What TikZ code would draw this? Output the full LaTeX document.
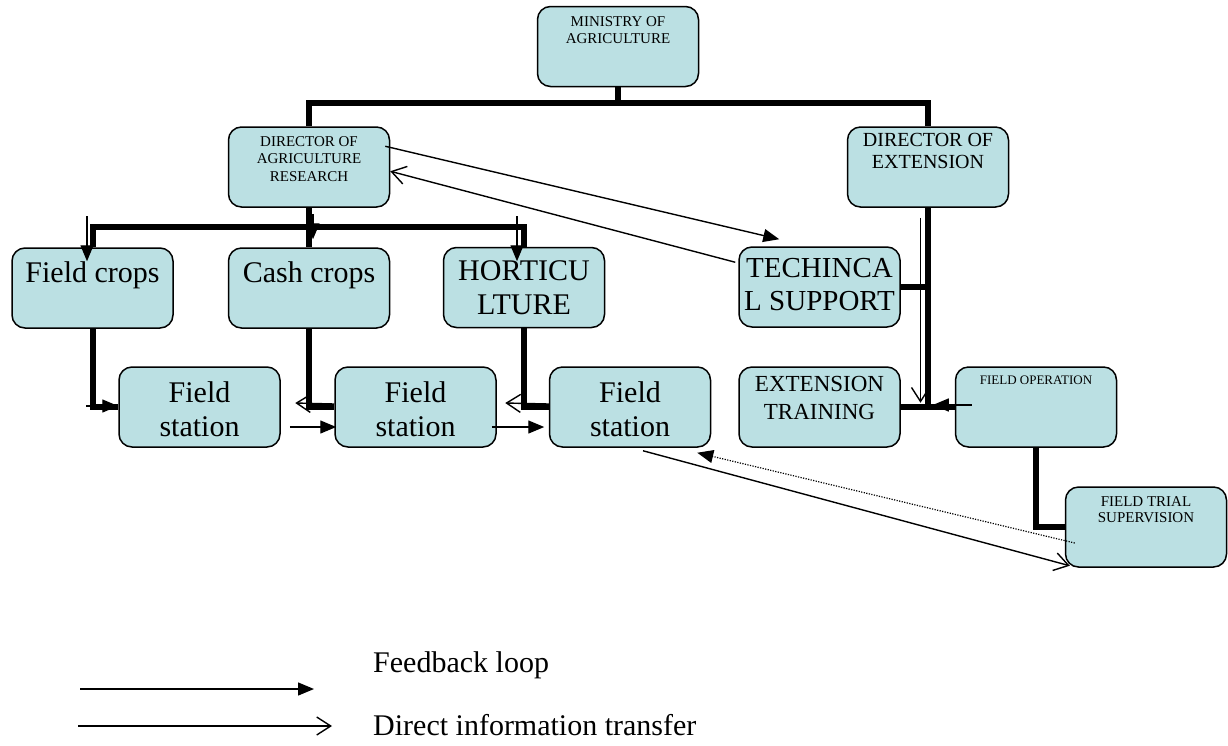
\documentclass[tikz,border=0pt]{standalone}
\usepackage{fontspec}
\setmainfont{Liberation Serif}
\usetikzlibrary{arrows.meta,calc}
\definecolor{boxfill}{RGB}{187,224,227}
\begin{document}
\begin{tikzpicture}[x=1pt,y=-1pt,
  box/.style={draw=black, line width=1.5pt, fill=boxfill, rounded corners=13pt,
    minimum width=161pt, minimum height=80pt, inner sep=0pt},
  lbl/.style={anchor=north, inner sep=0pt, align=center},
  bus/.style={line width=6pt},
  fb/.style={line width=1.4pt, -{Triangle[length=16pt,width=13pt]}},
  di/.style={line width=1.4pt, -{Straight Barb[length=14pt,width=18pt]}},
  dotline/.style={line width=1.2pt, dash pattern=on 1.2pt off 1.4pt, -{Triangle[length=16pt,width=13pt]}},
  big/.style={font=\fontsize{30}{34}\selectfont},
  small/.style={font=\fontsize{15}{17}\selectfont},
]
\fill[white] (0,0) rectangle (1228,745);
\useasboundingbox (0,0) rectangle (1228,745);

% boxes
\node[box] (min)  at (618,46.5) {};
\node[box] (dar)  at (309,167) {};
\node[box] (doe)  at (928,167) {};
\node[box] (fc)   at (92.5,288) {};
\node[box] (cc)   at (309,288) {};
\node[box] (hort) at (524,287.5) {};
\node[box] (ts)   at (819.5,287) {};
\node[box] (et)   at (819.5,407) {};
\node[box] (fo)   at (1036,407) {};
\node[box] (fts)  at (1146,527) {};
\node[box] (fs1)  at (199.5,407) {};
\node[box] (fs2)  at (415.5,407) {};
\node[box] (fs3)  at (630,407) {};

% labels
\node[lbl, small] (minT) at ($(min.north)+(0,11)$) {MINISTRY OF\\AGRICULTURE};
\node[lbl, font=\fontsize{15}{17.5}\selectfont] (darT) at ($(dar.north)+(0,10)$) {DIRECTOR OF\\AGRICULTURE\\RESEARCH};
\node[lbl, font=\fontsize{20}{22}\selectfont] (doeT) at ($(doe.north)+(0,7)$) {DIRECTOR OF\\EXTENSION};
\node[lbl, big] (fcT) at ($(fc.north)+(0,14)$) {Field crops};
\node[lbl, big] (ccT) at ($(cc.north)+(0,14)$) {Cash crops};
\node[lbl, big] (hortT) at ($(hort.north)+(0,14)$) {HORTICU\\LTURE};
\node[lbl, font=\fontsize{29}{33}\selectfont] (tsT) at ($(ts.north)+(0,12)$) {TECHINCA\\L SUPPORT};
\node[lbl, font=\fontsize{23}{28}\selectfont] (etT) at ($(et.north)+(0,10)$) {EXTENSION\\TRAINING};
\node[lbl, font=\fontsize{13}{15}\selectfont] (foT) at ($(fo.north)+(0,9)$) {FIELD OPERATION};
\node[lbl, font=\fontsize{15}{16}\selectfont] (ftsT) at ($(fts.north)+(0,10)$) {FIELD TRIAL\\SUPERVISION};
\node[lbl, big] (fs1T) at ($(fs1.north)+(0,15)$) {Field\\station};
\node[lbl, big] (fs2T) at ($(fs2.north)+(0,15)$) {Field\\station};
\node[lbl, big] (fs3T) at ($(fs3.north)+(0,15)$) {Field\\station};

% thick hierarchy lines
\coordinate (busA) at (618,103);
\draw[bus] (min.south) -- (busA);
\draw[bus] (dar.north) |- (busA) -| (doe.north);
\coordinate (busB) at (309,227);
\draw[bus] (dar.south) -- (busB);
\draw[bus] (fc.north) |- (busB) -| (hort.north);
\draw[bus] (busB -| cc.north) -- (cc.north);
\draw[bus] (fc.south) |- (fs1.west);
\draw[bus] (cc.south) |- (fs2.west);
\draw[bus] (hort.south) |- (fs3.west);
\draw[bus] (doe.south) -- (doe.south |- et.east);
\draw[bus] (ts.east) -- (ts.east -| doe.south);
\draw[bus] (et.east) -- (fo.west);
\draw[bus] (fo.south) |- (fts.west);

% thin arrows
\draw[fb] ([shift={(-5,20)}]dar.north east) -- ([shift={(41,-7)}]ts.north west);
\draw[di] ([shift={(-3,16)}]ts.north west) -- ([shift={(0,45)}]dar.north east);
\draw[fb] ([shift={(-5.5,-31)}]fc.north) -- ([shift={(-5.5,14)}]fc.north);
\draw[fb] ([shift={(4,-33)}]cc.north) -- ([shift={(4,-8)}]cc.north);
\draw[fb] ([shift={(-7,-30.5)}]hort.north) -- ([shift={(-7,14.5)}]hort.north);
\draw[fb] ([shift={(-32,-1)}]fs1.west) -- ([shift={(0,-1)}]fs1.west);
\draw[di] ([shift={(0,-3)}]fs2.west) -- ([shift={(-39,-4)}]fs2.west);
\draw[di] ([shift={(0,-3)}]fs3.west) -- ([shift={(-43.5,-4)}]fs3.west);
\draw[fb] ([shift={(9,20)}]fs1.east) -- ([shift={(2,20)}]fs2.west);
\draw[fb] ([shift={(-5,20)}]fs2.east) -- ([shift={(-4.5,20)}]fs3.west);
\draw[di] ([shift={(-7.5,10)}]doe.south) -- ([shift={(-7.5,195)}]doe.south);
\draw[fb] ([shift={(17,-2)}]fo.west) -- ([shift={(-22,-2)}]fo.west);
\draw[di] ([shift={(13,3)}]fs3.south) -- ([shift={(5,-2)}]fts.south west);
\draw[dotline] ([shift={(10,16)}]fts.west) -- ([shift={(-14,5)}]fs3.south east);

% legend
\coordinate (l1a) at (80,689);
\coordinate (l1b) at (314,689);
\draw[fb] (l1a) -- (l1b);
\node[anchor=base west, inner sep=0pt, big] (lt1) at (373,672) {Feedback loop};
\coordinate (l2a) at (78,726);
\coordinate (l2b) at (332,726);
\draw[di] (l2a) -- (l2b);
\node[anchor=base west, inner sep=0pt, big] (lt2) at (373,735) {Direct information transfer};
\end{tikzpicture}
\end{document}
